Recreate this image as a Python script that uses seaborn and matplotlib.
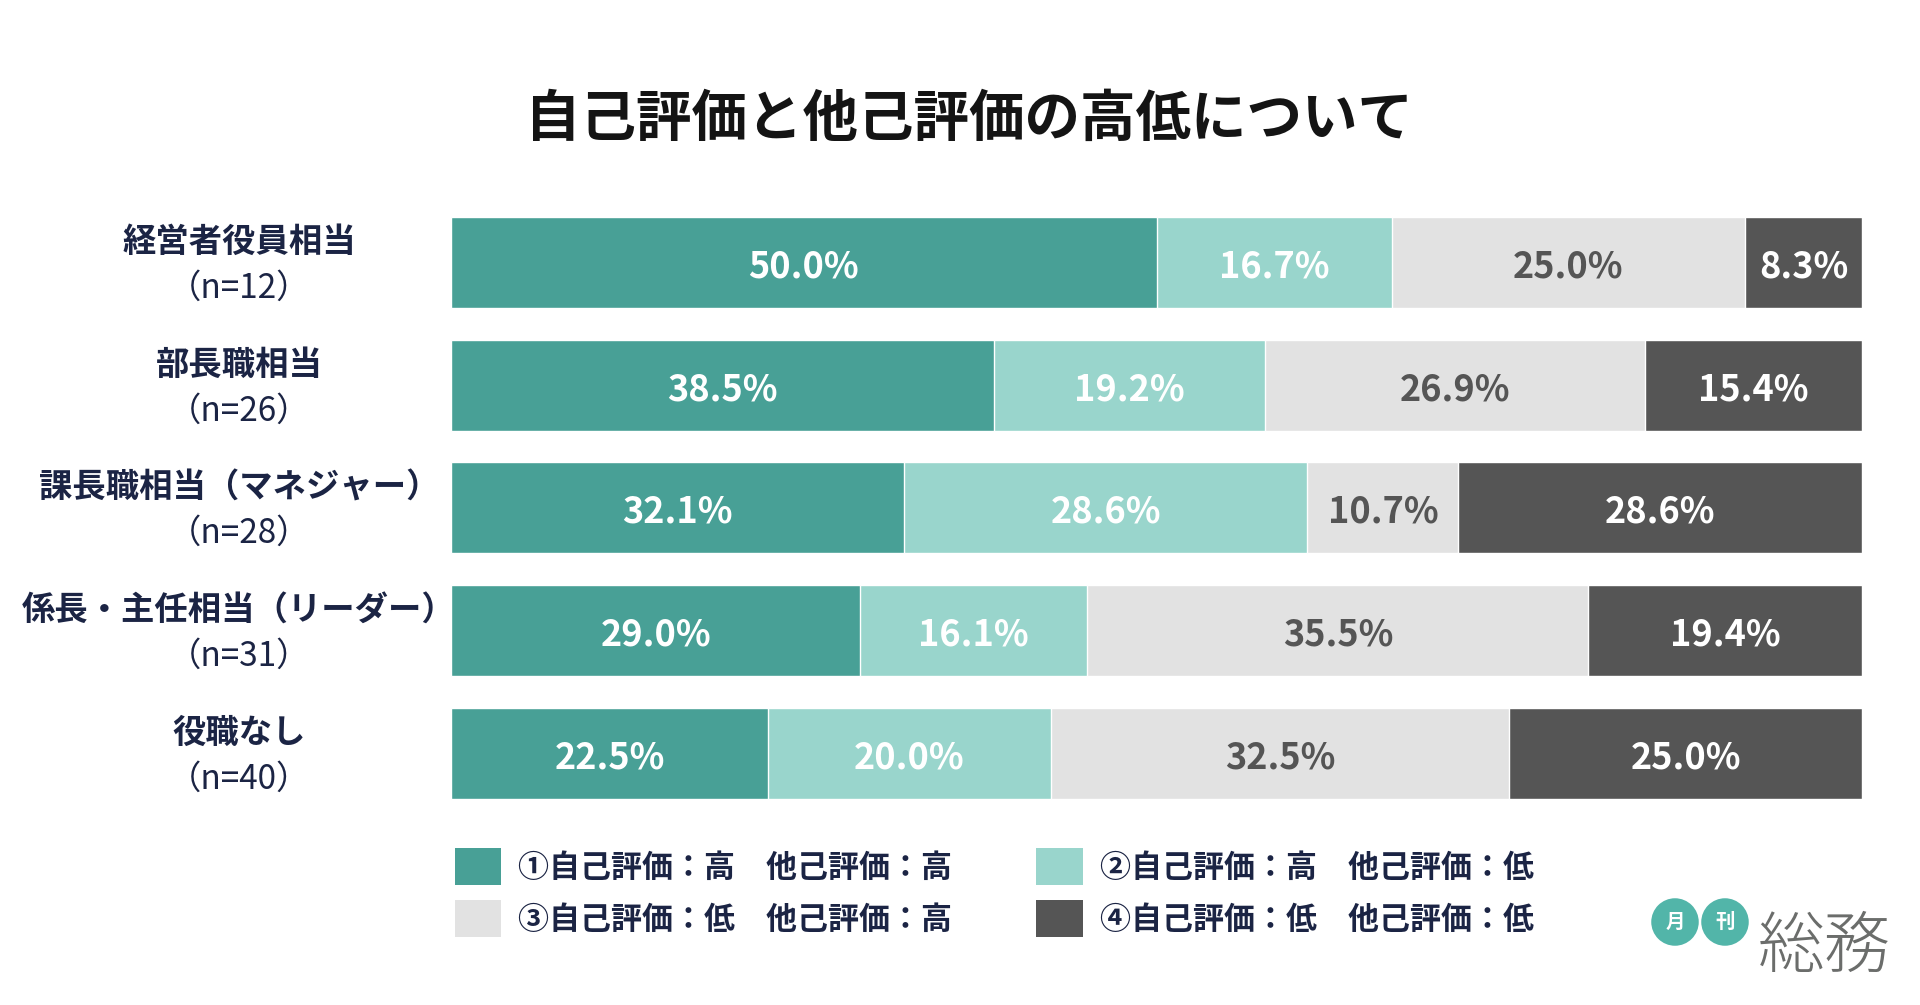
import numpy as np
import pandas as pd
import matplotlib
matplotlib.use('Agg')
import matplotlib.pyplot as plt
import seaborn as sns
from matplotlib.patches import Patch
from matplotlib.transforms import blended_transform_factory

# データ
categories = ['経営者役員相当', '部長職相当', '課長職相当（マネジャー）', '係長・主任相当（リーダー）', '役職なし']
sample_sizes = ['（n=12）', '（n=26）', '（n=28）', '（n=31）', '（n=40）']
series_names = ['①自己評価：高　他己評価：高', '②自己評価：高　他己評価：低',
                '③自己評価：低　他己評価：高', '④自己評価：低　他己評価：低']
high_high = [50.0, 38.5, 32.1, 29.0, 22.5]
high_low = [16.7, 19.2, 28.6, 16.1, 20.0]
low_high = [25.0, 26.9, 10.7, 35.5, 32.5]
low_low = [8.3, 15.4, 28.6, 19.4, 25.0]

COLORS = ['#48a096', '#99d5cc', '#e2e2e2', '#555555']
TEXT_COLORS = ['white', 'white', '#555555', 'white']
NAVY = '#1b2444'

sns.set_theme(style='white')
plt.rcParams['font.family'] = ['Noto Sans CJK JP', 'DejaVu Sans']

fig = plt.figure(figsize=(19.2, 10.05), dpi=100)
ax = fig.add_axes([451 / 1920, 0.1892, (1862 - 451) / 1920, 0.6107])

values = np.array([high_high, high_low, low_high, low_low]).T
cum = np.cumsum(values, axis=1)

# 積み上げ棒（後ろから描画）
for j in reversed(range(4)):
    sns.barplot(x=cum[:, j], y=categories, color=COLORS[j], orient='h',
                width=0.741, saturation=1, ax=ax)

# 値ラベル
for i in range(len(categories)):
    for j in range(4):
        center = cum[i, j] - values[i, j] / 2
        ax.text(center, i + 0.035, f'{values[i, j]:.1f}%', ha='center', va='center',
                fontsize=26, fontweight='bold', color=TEXT_COLORS[j])

ax.set_xlim(0, 100)
ax.set_ylim(4.5, -0.5)
ax.set_xlabel('')
ax.set_ylabel('')
ax.set_xticks([])
ax.set_yticks([])
sns.despine(ax=ax, left=True, bottom=True)

# カテゴリラベル（2行）
trans = blended_transform_factory(fig.transFigure, ax.transData)
for i, (cat, n) in enumerate(zip(categories, sample_sizes)):
    ax.text(239 / 1920, i - 0.16, cat, transform=trans, ha='center', va='center',
            fontsize=24, fontweight='bold', color=NAVY)
    ax.text(239 / 1920, i + 0.21, n, transform=trans, ha='center', va='center',
            fontsize=24, color=NAVY)

# タイトル
fig.text(969 / 1920, 1 - 120 / 1005, '自己評価と他己評価の高低について', ha='center', va='center',
         fontsize=40, fontweight='bold', color='#141414')

# 凡例
handles = [Patch(facecolor=c, edgecolor='none') for c in COLORS]
order = [0, 2, 1, 3]
fig.legend([handles[k] for k in order], [series_names[k] for k in order],
           ncol=2, loc='upper left', bbox_to_anchor=(455 / 1920, 1 - 848 / 1005),
           frameon=False, prop={'weight': 'bold', 'size': 22.3},
           handlelength=1.5, handleheight=1.45, handletextpad=0.55,
           columnspacing=2.7, labelspacing=0.5, borderpad=0, borderaxespad=0,
           labelcolor=NAVY)

# ロゴ
for k, ch in enumerate(['月', '刊']):
    fig.text((1675 + 50 * k) / 1920, 1 - 922 / 1005, ch, ha='center', va='center',
             fontsize=14, fontweight='bold', color='white',
             bbox=dict(boxstyle='circle,pad=0.72', fc='#52b5a9', ec='none'))
fig.text(1824 / 1920, 1 - 948 / 1005, '総務', ha='center', va='center',
         fontsize=48, fontweight='light', color='#6b6d6b')

fig.savefig('out.png', dpi=100, facecolor='white')
